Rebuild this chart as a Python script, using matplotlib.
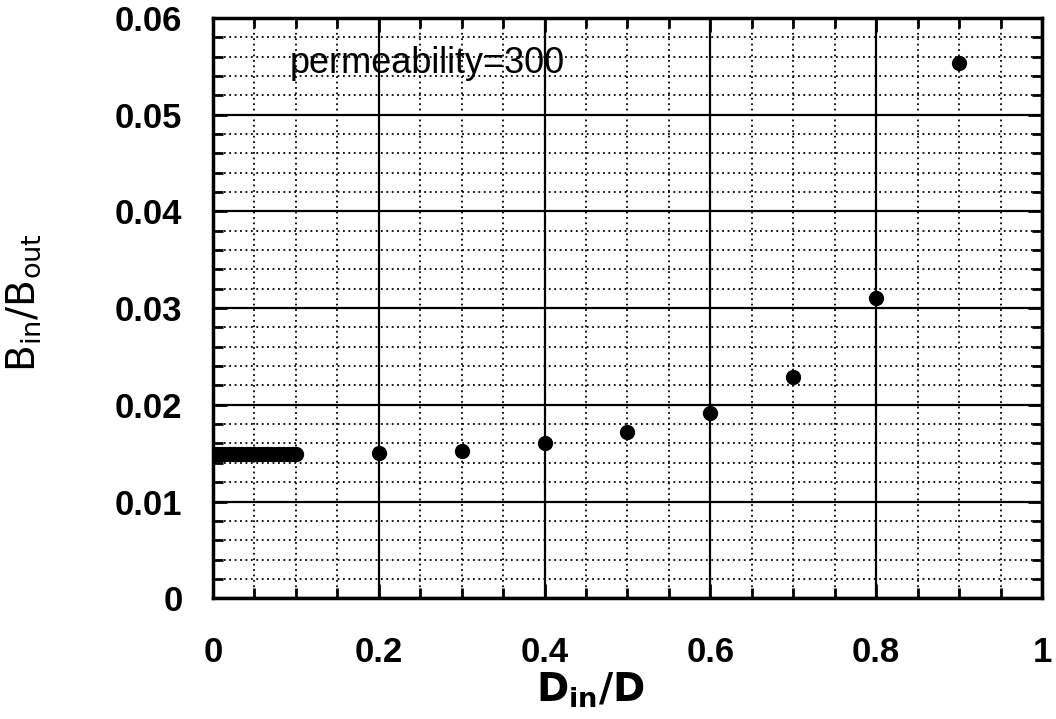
import matplotlib
matplotlib.use("Agg")
import matplotlib.pyplot as plt
from matplotlib.ticker import MultipleLocator

# data
x_cluster = [0.0, 0.005, 0.01, 0.015, 0.02, 0.025, 0.03, 0.035, 0.04, 0.045, 0.05,
             0.055, 0.06, 0.065, 0.07, 0.075, 0.08, 0.085, 0.09, 0.095, 0.1]
y_cluster = [0.0149] * len(x_cluster)
x_pts = [0.2, 0.3, 0.4, 0.5, 0.6, 0.7, 0.8, 0.9]
y_pts = [0.0150, 0.0152, 0.0161, 0.0172, 0.0192, 0.0229, 0.0310, 0.0553]

x_ticks = [0, 0.2, 0.4, 0.6, 0.8, 1.0]
x_labels = ["0", "0.2", "0.4", "0.6", "0.8", "1"]
y_ticks = [0, 0.01, 0.02, 0.03, 0.04, 0.05, 0.06]
y_labels = ["0", "0.01", "0.02", "0.03", "0.04", "0.05", "0.06"]

plt.rcParams["font.family"] = ["Liberation Sans", "DejaVu Sans"]

fig = plt.figure(figsize=(10.56, 7.19), dpi=100)
ax = fig.add_axes([0.2017, 0.168, 0.785, 0.807])

ax.plot(x_cluster + x_pts, y_cluster + y_pts, "o", color="black",
        markersize=10, zorder=5)

ax.set_xlim(0, 1)
ax.set_ylim(0, 0.06)
ax.set_xticks(x_ticks)
ax.set_xticklabels(x_labels)
ax.set_yticks(y_ticks)
ax.set_yticklabels(y_labels)
ax.xaxis.set_minor_locator(MultipleLocator(0.05))
ax.yaxis.set_minor_locator(MultipleLocator(0.002))

ax.grid(which="major", color="black", linestyle="-", linewidth=1.6)
ax.grid(which="minor", color="black", linestyle=(0, (1, 2)), linewidth=1.3)
ax.set_axisbelow(True)

ax.tick_params(which="both", direction="in", top=True, right=True,
               width=2, labelsize=25)
ax.tick_params(which="major", length=10)
ax.tick_params(which="minor", length=7)
ax.tick_params(axis="x", pad=27)
ax.tick_params(axis="y", pad=22)
for lab in ax.get_xticklabels() + ax.get_yticklabels():
    lab.set_fontweight("bold")
for sp in ax.spines.values():
    sp.set_linewidth(2.5)

ax.set_xlabel(r"$\mathbf{D_{in}/D}$", fontsize=28)
ax.xaxis.set_label_coords(0.455, -0.125)
ax.set_ylabel(r"$\mathrm{B_{in}/B_{out}}$", fontsize=28)
ax.yaxis.set_label_coords(-0.205, 0.51)

ax.text(0.093, 0.0553, "permeability=300", fontsize=26, va="center",
        ha="left", zorder=6)

fig.savefig("out.png", dpi=100)
